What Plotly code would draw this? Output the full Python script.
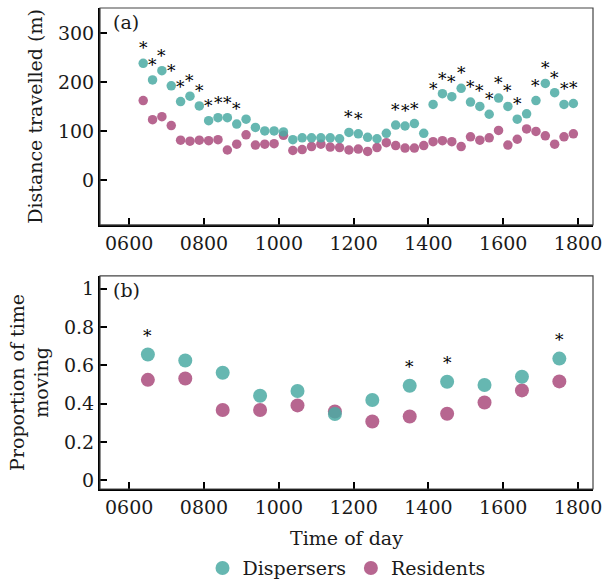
import plotly.graph_objects as go

# ---------------- data ----------------
time_a = [637.5, 662.5, 687.5, 712.5, 737.5, 762.5, 787.5, 812.5, 837.5, 862.5,
          887.5, 912.5, 937.5, 962.5, 987.5, 1012.5, 1037.5, 1062.5, 1087.5, 1112.5,
          1137.5, 1162.5, 1187.5, 1212.5, 1237.5, 1262.5, 1287.5, 1312.5, 1337.5, 1362.5,
          1387.5, 1412.5, 1437.5, 1462.5, 1487.5, 1512.5, 1537.5, 1562.5, 1587.5, 1612.5,
          1637.5, 1662.5, 1687.5, 1712.5, 1737.5, 1762.5, 1787.5]
dispersers_a = [238, 204, 223, 192, 160, 171, 151, 121, 127, 127,
                114, 124, 107, 100, 100, 98, 82, 86, 86, 86,
                86, 84, 97, 94, 87, 84, 95, 112, 110, 115,
                95, 154, 176, 170, 187, 159, 150, 134, 167, 150,
                124, 135, 162, 197, 178, 154, 156]
residents_a = [162, 123, 129, 111, 81, 79, 81, 80, 82, 61,
               73, 92, 71, 73, 74, 91, 60, 62, 68, 73,
               67, 66, 61, 63, 58, 66, 76, 70, 65, 65,
               70, 78, 80, 78, 68, 88, 81, 86, 101, 71,
               83, 104, 99, 90, 73, 88, 94]
signif_a = [1, 1, 1, 1, 1, 1, 1, 1, 1, 1,
            1, 0, 0, 0, 0, 0, 0, 0, 0, 0,
            0, 0, 1, 1, 0, 0, 0, 1, 1, 1,
            0, 1, 1, 1, 1, 1, 1, 1, 1, 1,
            1, 0, 1, 1, 1, 1, 1]

time_b = [650, 750, 850, 950, 1050, 1150, 1250, 1350, 1450, 1550, 1650, 1750]
dispersers_b = [0.656, 0.625, 0.561, 0.441, 0.466, 0.346, 0.419, 0.493, 0.514, 0.497, 0.540, 0.635]
residents_b = [0.524, 0.531, 0.367, 0.367, 0.391, 0.359, 0.307, 0.333, 0.347, 0.406, 0.469, 0.516]
signif_b = [1, 0, 0, 0, 0, 0, 0, 1, 1, 0, 0, 1]

x_tickvals = [600, 800, 1000, 1200, 1400, 1600, 1800]
x_ticktext = ["0600", "0800", "1000", "1200", "1400", "1600", "1800"]
ya_ticks = [0, 100, 200, 300]
yb_ticks = [0, 0.2, 0.4, 0.6, 0.8, 1]
yb_ticktext = ["0", "0.2", "0.4", "0.6", "0.8", "1"]

# ---------------- style ----------------
FONT = "DejaVu Serif, serif"
FS = 19
TXT = "#1a1a1a"
TEAL = "rgba(75,170,163,0.85)"
MAG = "rgba(170,75,125,0.85)"

fig = go.Figure()

# panel (a)
fig.add_trace(go.Scatter(x=time_a, y=residents_a, mode="markers", xaxis="x", yaxis="y",
                         marker=dict(color=MAG, size=9.5, line=dict(width=0)),
                         showlegend=False, hoverinfo="x+y"))
fig.add_trace(go.Scatter(x=time_a, y=dispersers_a, mode="markers", xaxis="x", yaxis="y",
                         marker=dict(color=TEAL, size=9.5, line=dict(width=0)),
                         showlegend=False, hoverinfo="x+y"))
# panel (b)
fig.add_trace(go.Scatter(x=time_b, y=residents_b, mode="markers", xaxis="x2", yaxis="y2",
                         name="Residents", legendrank=2,
                         marker=dict(color=MAG, size=14, line=dict(width=0))))
fig.add_trace(go.Scatter(x=time_b, y=dispersers_b, mode="markers", xaxis="x2", yaxis="y2",
                         name="Dispersers", legendrank=1,
                         marker=dict(color=TEAL, size=14, line=dict(width=0))))

annotations = []
for t, v, s in zip(time_a, dispersers_a, signif_a):
    if s:
        annotations.append(dict(x=t, y=v, xref="x", yref="y", text="*", showarrow=False,
                                yshift=15, font=dict(family=FONT, size=17, color="black")))
for t, v, s in zip(time_b, dispersers_b, signif_b):
    if s:
        annotations.append(dict(x=t, y=v, xref="x2", yref="y2", text="*", showarrow=False,
                                yshift=19, font=dict(family=FONT, size=17, color="black")))

annotations.append(dict(x=0.022, y=0.995, xref="x domain", yref="y domain", text="(a)",
                        showarrow=False, xanchor="left", yanchor="top",
                        font=dict(family=FONT, size=FS, color=TXT)))
annotations.append(dict(x=0.022, y=0.995, xref="x2 domain", yref="y2 domain", text="(b)",
                        showarrow=False, xanchor="left", yanchor="top",
                        font=dict(family=FONT, size=FS, color=TXT)))

shapes = [
    dict(type="rect", xref="x domain", yref="y domain", x0=0, x1=1, y0=0, y1=1,
         line=dict(color="#444", width=1.2), layer="above"),
    dict(type="rect", xref="x2 domain", yref="y2 domain", x0=0, x1=1, y0=0, y1=1,
         line=dict(color="#444", width=1.2), layer="above"),
]

axis_common = dict(showgrid=False, zeroline=False, showline=True, linecolor="black",
                   linewidth=2, ticks="inside", ticklen=7, tickwidth=2, tickcolor="black",
                   automargin=False,
                   tickfont=dict(family=FONT, size=FS, color=TXT))

fig.update_layout(
    width=604, height=587,
    margin=dict(l=100, r=11, t=8, b=98, autoexpand=False),
    paper_bgcolor="white", plot_bgcolor="white",
    font=dict(family=FONT, size=FS, color=TXT),
    xaxis=dict(domain=[0, 1], anchor="y", range=[522, 1840], tickvals=x_tickvals,
               ticktext=x_ticktext, **axis_common),
    yaxis=dict(domain=[0.549, 1], anchor="x", range=[-92, 351], tickvals=ya_ticks,
               title=dict(text="Distance travelled (m)", standoff=10,
                          font=dict(family=FONT, size=FS, color=TXT)),
               **axis_common),
    xaxis2=dict(domain=[0, 1], anchor="y2", range=[522, 1840], tickvals=x_tickvals,
                ticktext=x_ticktext,
                title=dict(text="Time of day", standoff=22,
                           font=dict(family=FONT, size=FS, color=TXT)),
                **axis_common),
    yaxis2=dict(domain=[0, 0.443], anchor="x2", range=[-0.045, 1.066], tickvals=yb_ticks,
                ticktext=yb_ticktext,
                title=dict(text="Proportion of time<br>moving", standoff=10,
                           font=dict(family=FONT, size=FS, color=TXT)),
                **axis_common),
    legend=dict(orientation="h", x=0.5, xanchor="center", y=0.032, yanchor="middle",
                yref="container",
                font=dict(family=FONT, size=FS, color=TXT), itemwidth=30,
                traceorder="normal"),
    annotations=annotations,
    shapes=shapes,
)

fig.write_html("out.html")
